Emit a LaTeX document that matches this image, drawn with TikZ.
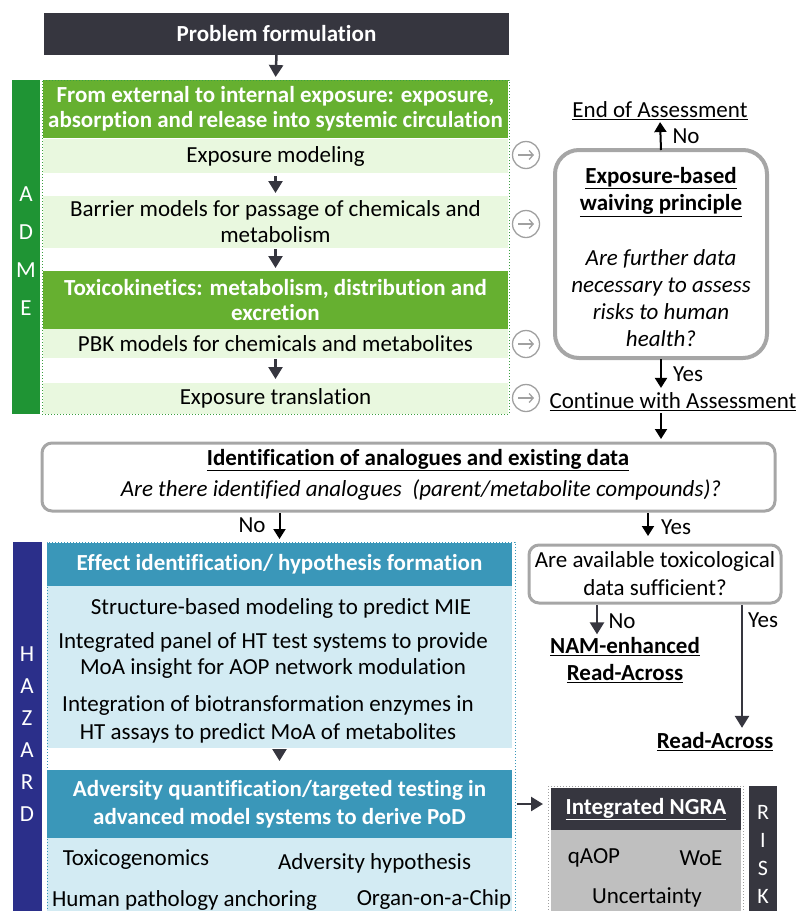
\documentclass[tikz,border=0pt]{standalone}
\usepackage{fontspec}
\setmainfont{Carlito}[Ligatures={NoCommon}]
\usetikzlibrary{arrows.meta}
\definecolor{dk}{HTML}{36363F}
\definecolor{sgreen}{HTML}{1F9434}
\definecolor{hgreen}{HTML}{66B030}
\definecolor{lgreen}{HTML}{E9F8DF}
\definecolor{dgreen}{HTML}{3AA040}
\definecolor{hblue}{HTML}{2B2F8A}
\definecolor{bhead}{HTML}{3A97B9}
\definecolor{lblue}{HTML}{D3EBF3}
\definecolor{dblue}{HTML}{3A97B9}
\definecolor{bgray}{HTML}{A6A6A6}
\definecolor{cgray}{HTML}{A0A0A0}
\definecolor{ngray}{HTML}{BFBFBF}
\newcommand\fs{\fontsize{23}{26}\selectfont}
\begin{document}
\begin{tikzpicture}[x=1pt,y=-1pt,
  every node/.style={inner sep=0pt, outer sep=0pt, font=\fs},
  arr/.style={-{Triangle[width=14pt,length=12pt]}, line width=2.5pt, draw=dk},
  barr/.style={-{Triangle[width=12pt,length=10pt]}, line width=2pt, draw=black},
  band/.style={minimum width=465pt, align=center},
  hg/.style={band, fill=hgreen, text=white, font=\fontsize{23}{25}\selectfont\bfseries},
  lg/.style={band, fill=lgreen},
  hb/.style={band, fill=bhead, text=white, font=\fontsize{23}{28}\selectfont\bfseries},
  lb/.style={band, fill=lblue},
  circ/.style={circle, draw=cgray, line width=1.3pt, minimum size=27pt},
  carr/.style={-{Straight Barb[length=4pt,width=9pt]}, draw=cgray, line width=1.3pt},
  side/.style={align=center, text=white},
  qbox/.style={draw=bgray, rounded corners=10pt, align=center}
]
\useasboundingbox (0,0) rectangle (796,911);
\clip (0,0) rectangle (796,911);

% Problem formulation
\node[fill=dk, text=white, font=\fs\bfseries, minimum width=465pt, minimum height=42pt] (pf) at (276.5,33.5) {Problem formulation};

% ADME
\node[fill=sgreen, minimum width=28pt, minimum height=334pt] (adme) at (26,247) {};
\node[side, font=\fontsize{23}{38}\selectfont] (admel) at (26,251) {A\\D\\M\\E};
\node[hg, minimum height=58pt] (h1) at (275.5,109) {From external to internal exposure: exposure,\\absorption and release into systemic circulation};
\node[lg, minimum height=34pt] (b1) at (275.5,156) {Exposure modeling};
\node[lg, minimum height=52pt] (b2) at (275.5,222) {Barrier models for passage of chemicals and\\metabolism};
\node[hg, minimum height=58pt] (h2) at (275.5,300) {Toxicokinetics: metabolism, distribution and\\excretion};
\node[lg, minimum height=29pt] (b3) at (275.5,343.5) {PBK models for chemicals and metabolites};
\node[lg, minimum height=31pt] (b4) at (275.5,398.5) {Exposure translation};
\node[draw=dgreen, dotted, line width=1pt, minimum width=467pt, minimum height=334pt] (admebox) at (275.5,247) {};

\draw[arr, shorten >=3pt] (pf.south) -- (h1.north);
\draw[arr, shorten <=3pt, shorten >=3pt] (b1.south) -- (b2.north);
\draw[arr, shorten <=1pt, shorten >=3pt] (b2.south) -- (h2.north);
\draw[arr, shorten <=1pt, shorten >=4pt] (b3.south) -- (b4.north);

% circled arrows
\foreach \n/\yy in {c1/155, c2/224, c3/344, c4/398}{
  \node[circ] (\n) at (526,\yy) {};
  \draw[carr] ([xshift=-8pt]\n.center) -- ([xshift=8pt]\n.center);
}

% Exposure-based waiving
\node[qbox, line width=4pt, rounded corners=24pt, minimum width=212pt, minimum height=208pt] (eb) at (661,254) {};
\node[align=center, font=\fontsize{23}{27}\selectfont] (ebt) at (661,257)
 {\underline{\textbf{Exposure-based}}\\\underline{\textbf{waiving principle}}\\[28pt]\textit{Are further data}\\\textit{necessary to assess}\\\textit{risks to human}\\\textit{health?}};
\node (end) at (660,111) {\underline{End of Assessment}};
\draw[barr, shorten >=2pt] (eb.north) -- (end.south);
\node (nol) at (686,136) {No};
\node (cont) at (673,402) {\underline{Continue with Assessment}};
\draw[barr, shorten <=1pt, shorten >=5pt] (eb.south) -- (eb.south |- cont.north);
\node (yesl) at (688,374) {Yes};

% Identification
\node[qbox, line width=3pt, minimum width=733pt, minimum height=68pt] (idb) at (408.5,477) {};
\draw[barr, shorten <=2pt, shorten >=4pt] (cont.south -| eb.south) -- (idb.north -| eb.south);
\node (idt) at (418,460) {\underline{\textbf{Identification of analogues and existing data}}};
\node (idq) at (421,490) {\textit{Are there identified analogues~ (parent/metabolite compounds)?}};

% HAZARD
\node[fill=hblue, minimum width=29pt, minimum height=380pt, anchor=north] (hz) at (27,542) {};
\node[side, font=\fontsize{23}{32}\selectfont] (hzl) at (27,734) {H\\A\\Z\\A\\R\\D};
\node[hb, minimum height=43pt, anchor=north] (e1) at (279.5,543) {Effect identification/ hypothesis formation};
\node[lb, minimum height=162pt, anchor=north] (e1b) at (279.5,586) {};
\node (t1) at (281,608) {Structure-based modeling to predict MIE};
\node[align=center] (t2) at (273,655) {Integrated panel of HT test systems to provide\\MoA insight for AOP network modulation};
\node[align=center, font=\fontsize{23}{28}\selectfont] (t3) at (268,719) {Integration of biotransformation enzymes in\\HT assays to predict MoA of metabolites};
\node[hb, minimum height=68pt, anchor=north] (a1) at (279.5,770) {Adversity quantification/targeted testing in\\advanced model systems to derive PoD};
\node[lb, minimum height=90pt, anchor=north] (a1b) at (279.5,838) {};
\node (g1) at (136,860) {Toxicogenomics};
\node (g2) at (374.5,863) {Adversity hypothesis};
\node (g3) at (184.5,900) {Human pathology anchoring};
\node (g4) at (434,899) {Organ-on-a-Chip};
\node[draw=dblue, dotted, line width=1pt, minimum width=468pt, minimum height=390pt, anchor=north] (hzbox) at (281,542) {};
\draw[arr, shorten <=3pt, shorten >=9pt] (e1b.south) -- (a1.north);

\draw[barr, shorten <=2pt, shorten >=4pt] (e1.north |- idb.south) -- (e1.north);
\node (nol2) at (252,525) {No};
\coordinate (yx) at (648,0);
\draw[barr, shorten <=2pt, shorten >=9pt] (idb.south -| yx) -- (545,545 -| yx);
\node (yesl2) at (676,527) {Yes};

% toxicological data
\node[qbox, line width=3pt, minimum width=252pt, minimum height=58pt, font=\fontsize{23}{28}\selectfont] (q) at (655,574) {Are available toxicological\\data sufficient?};
\node[align=center, font=\fontsize{23}{27}\selectfont] (nam) at (625,660) {\underline{\textbf{NAM-enhanced}}\\\underline{\textbf{Read-Across}}};
\coordinate (nx) at (597,0);
\draw[arr, shorten <=2pt, shorten >=3pt] (q.south -| nx) -- (nam.north -| nx);
\node (nol3) at (622,621) {No};
\node (ra) at (715,742) {\underline{\textbf{Read-Across}}};
\coordinate (yx2) at (742,0);
\draw[arr, shorten <=2pt, shorten >=5pt] (q.south -| yx2) -- (ra.north -| yx2);
\node (yesl3) at (763,620) {Yes};

% NGRA
\node[minimum width=195pt, minimum height=140pt, anchor=north] (ngbox) at (645.5,786) {};
\node[fill=dk, text=white, font=\fs\bfseries, minimum width=190pt, minimum height=43pt] (ngh) at (646,809) {\underline{Integrated NGRA}};
\node[fill=ngray, minimum width=190pt, minimum height=100pt, anchor=north] (ngb) at (646,830) {};
\draw[draw=cgray, dotted, line width=1pt] (ngbox.north west) rectangle (ngbox.south east);
\node (n1) at (594,858) {qAOP};
\node (n2) at (701,858) {WoE};
\node (n3) at (647,897) {Uncertainty};
\draw[arr, shorten <=5pt, shorten >=5pt] (a1.east) -- (a1.east -| ngbox.west);

\node[fill=dk, minimum width=28pt, minimum height=140pt, anchor=north] (risk) at (763,786) {};
\node[side, font=\fontsize{22}{28}\selectfont] (riskl) at (763,854) {R\\I\\S\\K};
\end{tikzpicture}
\end{document}
